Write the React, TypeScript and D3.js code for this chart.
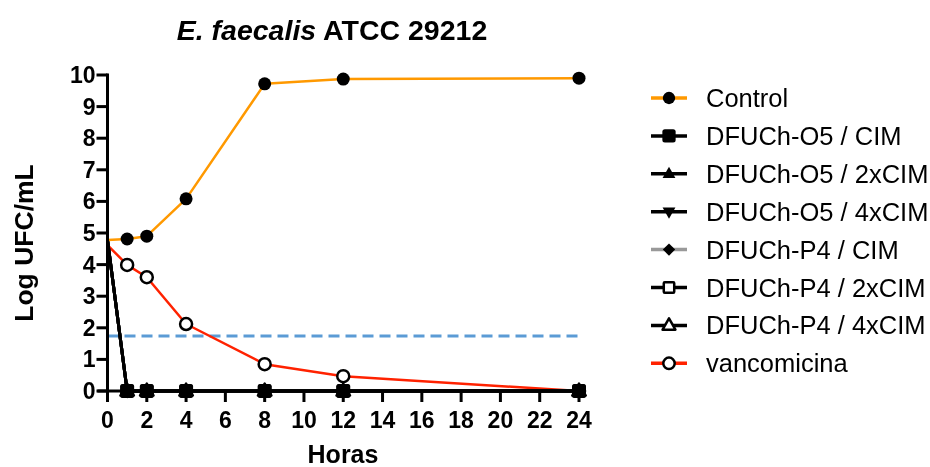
import React, { useEffect, useRef } from 'react'
import * as d3 from 'd3'

const horas = [0, 1, 2, 4, 8, 12, 24]
const controlVals = [4.78, 4.81, 4.9, 6.08, 9.72, 9.87, 9.9]
const dfuchVals = [4.78, 0, 0, 0, 0, 0, 0]
const vancVals = [4.62, 3.99, 3.6, 2.12, 0.85, 0.47, 0]
const limite = 1.74

const xTicks = [0, 2, 4, 6, 8, 10, 12, 14, 16, 18, 20, 22, 24]
const yTicks = [0, 1, 2, 3, 4, 5, 6, 7, 8, 9, 10]

const series = [
  { name: 'Control', values: controlVals, color: '#ff9900', marker: 'circle', filled: true },
  { name: 'DFUCh-O5 / CIM', values: dfuchVals, color: '#000000', marker: 'square', filled: true },
  { name: 'DFUCh-O5 / 2xCIM', values: dfuchVals, color: '#000000', marker: 'triUp', filled: true },
  { name: 'DFUCh-O5 / 4xCIM', values: dfuchVals, color: '#000000', marker: 'triDown', filled: true },
  { name: 'DFUCh-P4 / CIM', values: dfuchVals, color: '#999999', marker: 'diamond', filled: true },
  { name: 'DFUCh-P4 / 2xCIM', values: dfuchVals, color: '#000000', marker: 'square', filled: false },
  { name: 'DFUCh-P4 / 4xCIM', values: dfuchVals, color: '#000000', marker: 'triUp', filled: false },
  { name: 'vancomicina', values: vancVals, color: '#ff2200', marker: 'circle', filled: false },
]

const FONT = 'Arial, "Liberation Sans", Helvetica, sans-serif'

function drawMarker(g, kind, filled, cx, cy, s = 1) {
  const fill = filled ? '#000' : '#fff'
  const sw = 2.5
  if (kind === 'circle') {
    g.append('circle').attr('cx', cx).attr('cy', cy).attr('r', (filled ? 6.5 : 6) * s)
      .attr('fill', fill).attr('stroke', '#000').attr('stroke-width', filled ? 0 : sw)
  } else if (kind === 'square') {
    const h = (filled ? 7 : 5.5) * s
    g.append('rect').attr('x', cx - h).attr('y', cy - h).attr('width', 2 * h).attr('height', 2 * h)
      .attr('rx', filled ? 2.5 : 1)
      .attr('fill', fill).attr('stroke', '#000').attr('stroke-width', filled ? 0 : sw)
  } else if (kind === 'triUp' || kind === 'triDown') {
    const r = 7.5 * s
    const d = kind === 'triUp' ? 1 : -1
    const pts = [[cx, cy - d * r], [cx + r * 0.9, cy + d * r * 0.6], [cx - r * 0.9, cy + d * r * 0.6]]
    g.append('path').attr('d', 'M' + pts.map(p => p.join(',')).join('L') + 'Z')
      .attr('fill', fill).attr('stroke', '#000').attr('stroke-width', filled ? 0 : sw)
      .attr('stroke-linejoin', 'round')
  } else if (kind === 'diamond') {
    const r = 6.5 * s
    g.append('path').attr('d', `M${cx},${cy - r}L${cx + r},${cy}L${cx},${cy + r}L${cx - r},${cy}Z`)
      .attr('fill', '#000')
  }
}

const Chart = () => {
  const ref = useRef(null)

  useEffect(() => {
    const svg = d3.select(ref.current)
    svg.selectAll('*').remove()

    const x = d3.scaleLinear().domain([0, 24]).range([107.5, 579])
    const y = d3.scaleLinear().domain([0, 10]).range([391, 75])

    // title
    const title = svg.append('text').attr('x', 332).attr('y', 40).attr('text-anchor', 'middle')
      .style('font-family', FONT).style('font-size', '28.5px').style('font-weight', 'bold')
    title.append('tspan').style('font-style', 'italic').text('E. faecalis')
    title.append('tspan').text(' ATCC 29212')

    const plot = svg.append('g')

    // limite de deteccion
    plot.append('line').attr('x1', x(0)).attr('x2', x(24)).attr('y1', y(limite)).attr('y2', y(limite))
      .attr('stroke', '#5b9bd5').attr('stroke-width', 3).attr('stroke-dasharray', '11,6')

    const line = d3.line().x((d) => x(d[0])).y((d) => y(d[1]))

    // reverse order so Control / O5-CIM stay on top
    const order = series.slice().reverse()
    order.forEach(s => {
      const pts = horas.map((h, i) => [h, s.values[i]])
      plot.append('path').attr('d', line(pts)).attr('fill', 'none')
        .attr('stroke', s.color).attr('stroke-width', s.name === 'Control' || s.name === 'vancomicina' ? 2.5 : 3)
        .attr('stroke-linejoin', 'round')
    })
    order.forEach(s => {
      horas.forEach((h, i) => {
        if (h === 0) return
        drawMarker(plot, s.marker, s.filled, x(h), y(s.values[i]))
      })
    })

    // axes
    const ax = svg.append('g').style('font-family', FONT)
    ax.append('line').attr('x1', x(0) - 10).attr('x2', x(24) + 1.5).attr('y1', y(0)).attr('y2', y(0))
      .attr('stroke', '#000').attr('stroke-width', 3)
    ax.append('line').attr('x1', x(0)).attr('x2', x(0)).attr('y1', y(10) - 1.5).attr('y2', y(0) + 11)
      .attr('stroke', '#000').attr('stroke-width', 3)
    xTicks.forEach(t => {
      ax.append('line').attr('x1', x(t)).attr('x2', x(t)).attr('y1', y(0)).attr('y2', y(0) + 11)
        .attr('stroke', '#000').attr('stroke-width', 3)
      ax.append('text').attr('x', x(t)).attr('y', 428).attr('text-anchor', 'middle')
        .style('font-size', '23px').style('font-weight', 'bold').text(t)
    })
    yTicks.forEach(t => {
      ax.append('line').attr('x1', x(0) - 11).attr('x2', x(0)).attr('y1', y(t)).attr('y2', y(t))
        .attr('stroke', '#000').attr('stroke-width', 3)
      ax.append('text').attr('x', x(0) - 12).attr('y', y(t) + 8).attr('text-anchor', 'end')
        .style('font-size', '23px').style('font-weight', 'bold').text(t)
    })
    ax.append('text').attr('x', 343).attr('y', 463).attr('text-anchor', 'middle')
      .style('font-size', '25px').style('font-weight', 'bold').text('Horas')
    ax.append('text').attr('transform', 'translate(33,243) rotate(-90)').attr('text-anchor', 'middle')
      .style('font-size', '26.5px').style('font-weight', 'bold').text('Log UFC/mL')

    // legend
    const lg = svg.append('g').style('font-family', FONT)
    series.forEach((s, i) => {
      const ly = 98 + i * 37.9
      lg.append('line').attr('x1', 651).attr('x2', 687).attr('y1', ly).attr('y2', ly)
        .attr('stroke', s.color).attr('stroke-width', 3.5)
      drawMarker(lg, s.marker, s.filled, 669, ly, 0.95)
      lg.append('text').attr('x', 706).attr('y', ly + 9).style('font-size', '25.5px').text(s.name)
    })
  }, [])

  return <svg ref={ref} width={930} height={467} style={{ display: 'block' }} />
}

export default function App() {
  return (
    <div style={{ position: 'fixed', left: 0, top: 0, width: 930, height: 467 }}>
      <Chart />
    </div>
  )
}
